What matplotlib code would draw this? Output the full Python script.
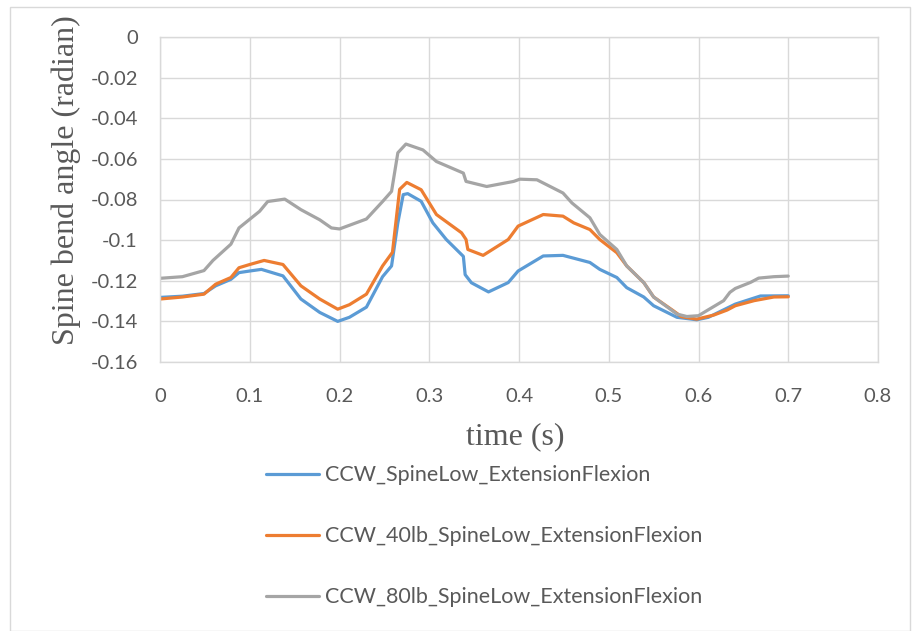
import matplotlib
matplotlib.use("Agg")
import matplotlib.pyplot as plt
from matplotlib.patches import Rectangle

# Spine bend angle over time for three load cases
t_base = [0, 0.025, 0.049, 0.062, 0.079, 0.088, 0.100, 0.113, 0.137, 0.157, 0.178,
          0.198, 0.211, 0.230, 0.248, 0.258, 0.265, 0.271, 0.276, 0.291, 0.304,
          0.319, 0.338, 0.340, 0.347, 0.366, 0.388, 0.399, 0.427, 0.449, 0.479,
          0.490, 0.509, 0.520, 0.539, 0.550, 0.576, 0.598, 0.611, 0.641, 0.669, 0.700]
y_base = [-0.1282, -0.1276, -0.1263, -0.1225, -0.1193, -0.1160, -0.1152, -0.1144,
          -0.1176, -0.1290, -0.1356, -0.1400, -0.1380, -0.1330, -0.1180, -0.1127,
          -0.0915, -0.0776, -0.0771, -0.0809, -0.0915, -0.0997, -0.1080, -0.1170,
          -0.1210, -0.1255, -0.1209, -0.1152, -0.1078, -0.1075, -0.1110, -0.1144,
          -0.1184, -0.1234, -0.1280, -0.1323, -0.1380, -0.1392, -0.1380, -0.1315,
          -0.1275, -0.1274]

t_40 = [0, 0.025, 0.049, 0.062, 0.079, 0.088, 0.100, 0.116, 0.137, 0.157, 0.178,
        0.198, 0.211, 0.230, 0.248, 0.259, 0.267, 0.275, 0.291, 0.308, 0.336, 0.341,
        0.343, 0.360, 0.388, 0.399, 0.427, 0.449, 0.461, 0.479, 0.490, 0.509, 0.520,
        0.539, 0.550, 0.572, 0.581, 0.598, 0.617, 0.632, 0.641, 0.662, 0.684, 0.700]
y_40 = [-0.1290, -0.1280, -0.1266, -0.1217, -0.1184, -0.1136, -0.1120, -0.1100,
        -0.1120, -0.1225, -0.1290, -0.1340, -0.1318, -0.1266, -0.1127, -0.1060,
        -0.0750, -0.0716, -0.0752, -0.0874, -0.0964, -0.0997, -0.1046, -0.1075,
        -0.0997, -0.0931, -0.0874, -0.0882, -0.0915, -0.0948, -0.0997, -0.1062,
        -0.1127, -0.1209, -0.1280, -0.1348, -0.1377, -0.1389, -0.1369, -0.1344,
        -0.1323, -0.1298, -0.1280, -0.1279]

t_80 = [0, 0.025, 0.049, 0.059, 0.079, 0.088, 0.111, 0.120, 0.139, 0.157, 0.178,
        0.191, 0.200, 0.230, 0.248, 0.258, 0.265, 0.274, 0.293, 0.308, 0.338, 0.341,
        0.364, 0.394, 0.401, 0.420, 0.449, 0.459, 0.479, 0.490, 0.509, 0.520, 0.539,
        0.550, 0.576, 0.587, 0.600, 0.609, 0.628, 0.635, 0.641, 0.658, 0.667, 0.684,
        0.700]
y_80 = [-0.1188, -0.1180, -0.1150, -0.1100, -0.1020, -0.0940, -0.0858, -0.0810,
        -0.0798, -0.0850, -0.0900, -0.0940, -0.0945, -0.0896, -0.0810, -0.0760,
        -0.0570, -0.0527, -0.0556, -0.0613, -0.0670, -0.0711, -0.0736, -0.0711,
        -0.0700, -0.0703, -0.0768, -0.0817, -0.0890, -0.0972, -0.1046, -0.1127,
        -0.1209, -0.1280, -0.1364, -0.1376, -0.1372, -0.1348, -0.1298, -0.1257,
        -0.1238, -0.1208, -0.1187, -0.1180, -0.1177]

series_labels = ["CCW_SpineLow_ExtensionFlexion",
                 "CCW_40lb_SpineLow_ExtensionFlexion",
                 "CCW_80lb_SpineLow_ExtensionFlexion"]
series_colors = ["#5B9BD5", "#ED7D31", "#A5A5A5"]

x_ticks = [0, 0.1, 0.2, 0.3, 0.4, 0.5, 0.6, 0.7, 0.8]
x_tick_labels = ["0", "0.1", "0.2", "0.3", "0.4", "0.5", "0.6", "0.7", "0.8"]
y_ticks = [0, -0.02, -0.04, -0.06, -0.08, -0.1, -0.12, -0.14, -0.16]
y_tick_labels = ["0", "-0.02", "-0.04", "-0.06", "-0.08", "-0.1", "-0.12", "-0.14", "-0.16"]

W, H = 913, 631
fig = plt.figure(figsize=(W / 100, H / 100), dpi=100)

# outer chart frame
fig.patches.append(Rectangle((10 / W, 0), 900 / W, (H - 7) / H, transform=fig.transFigure,
                             fill=False, edgecolor="#D9D9D9", linewidth=1.0))

ax = fig.add_axes([160 / W, 1 - 362 / H, 718 / W, 325 / H])

for t, y, lab, c in zip([t_base, t_40, t_80], [y_base, y_40, y_80], series_labels, series_colors):
    ax.plot(t, y, color=c, linewidth=2.3, label=lab, solid_joinstyle="round",
            solid_capstyle="round")

ax.set_xlim(0, 0.8)
ax.set_ylim(-0.16, 0)
ax.set_xticks(x_ticks)
ax.set_xticklabels(x_tick_labels)
ax.set_yticks(y_ticks)
ax.set_yticklabels(y_tick_labels)
ax.grid(True, color="#D9D9D9", linewidth=1.0)
ax.set_axisbelow(True)
for s in ax.spines.values():
    s.set_color("#D9D9D9")
    s.set_linewidth(1.0)

ax.tick_params(axis="both", length=0, colors="#595959")
ax.tick_params(axis="x", pad=19)
ax.tick_params(axis="y", pad=16)
for lbl in ax.get_xticklabels() + ax.get_yticklabels():
    lbl.set_fontfamily(["Lato", "DejaVu Sans"])
    lbl.set_fontsize(14.5)
    lbl.set_color("#595959")

fig.text(515 / W, 1 - 437 / H, "time (s)", ha="center", va="center",
         family="Liberation Serif", size=23, color="#595959")
fig.text(66 / W, 1 - 180 / H, "Spine bend angle (radian)", ha="center", va="center",
         rotation=90, family="Liberation Serif", size=23, color="#595959")

handles, labels = ax.get_legend_handles_labels()
leg = fig.legend(handles, labels, loc="upper left", bbox_to_anchor=(247 / W, 1 - 446 / H),
                 frameon=False, prop=dict(family="Lato", size=15.5), labelcolor="#595959",
                 handlelength=2.45, handletextpad=0.25, labelspacing=1.9)

fig.savefig("out.png", dpi=100)
